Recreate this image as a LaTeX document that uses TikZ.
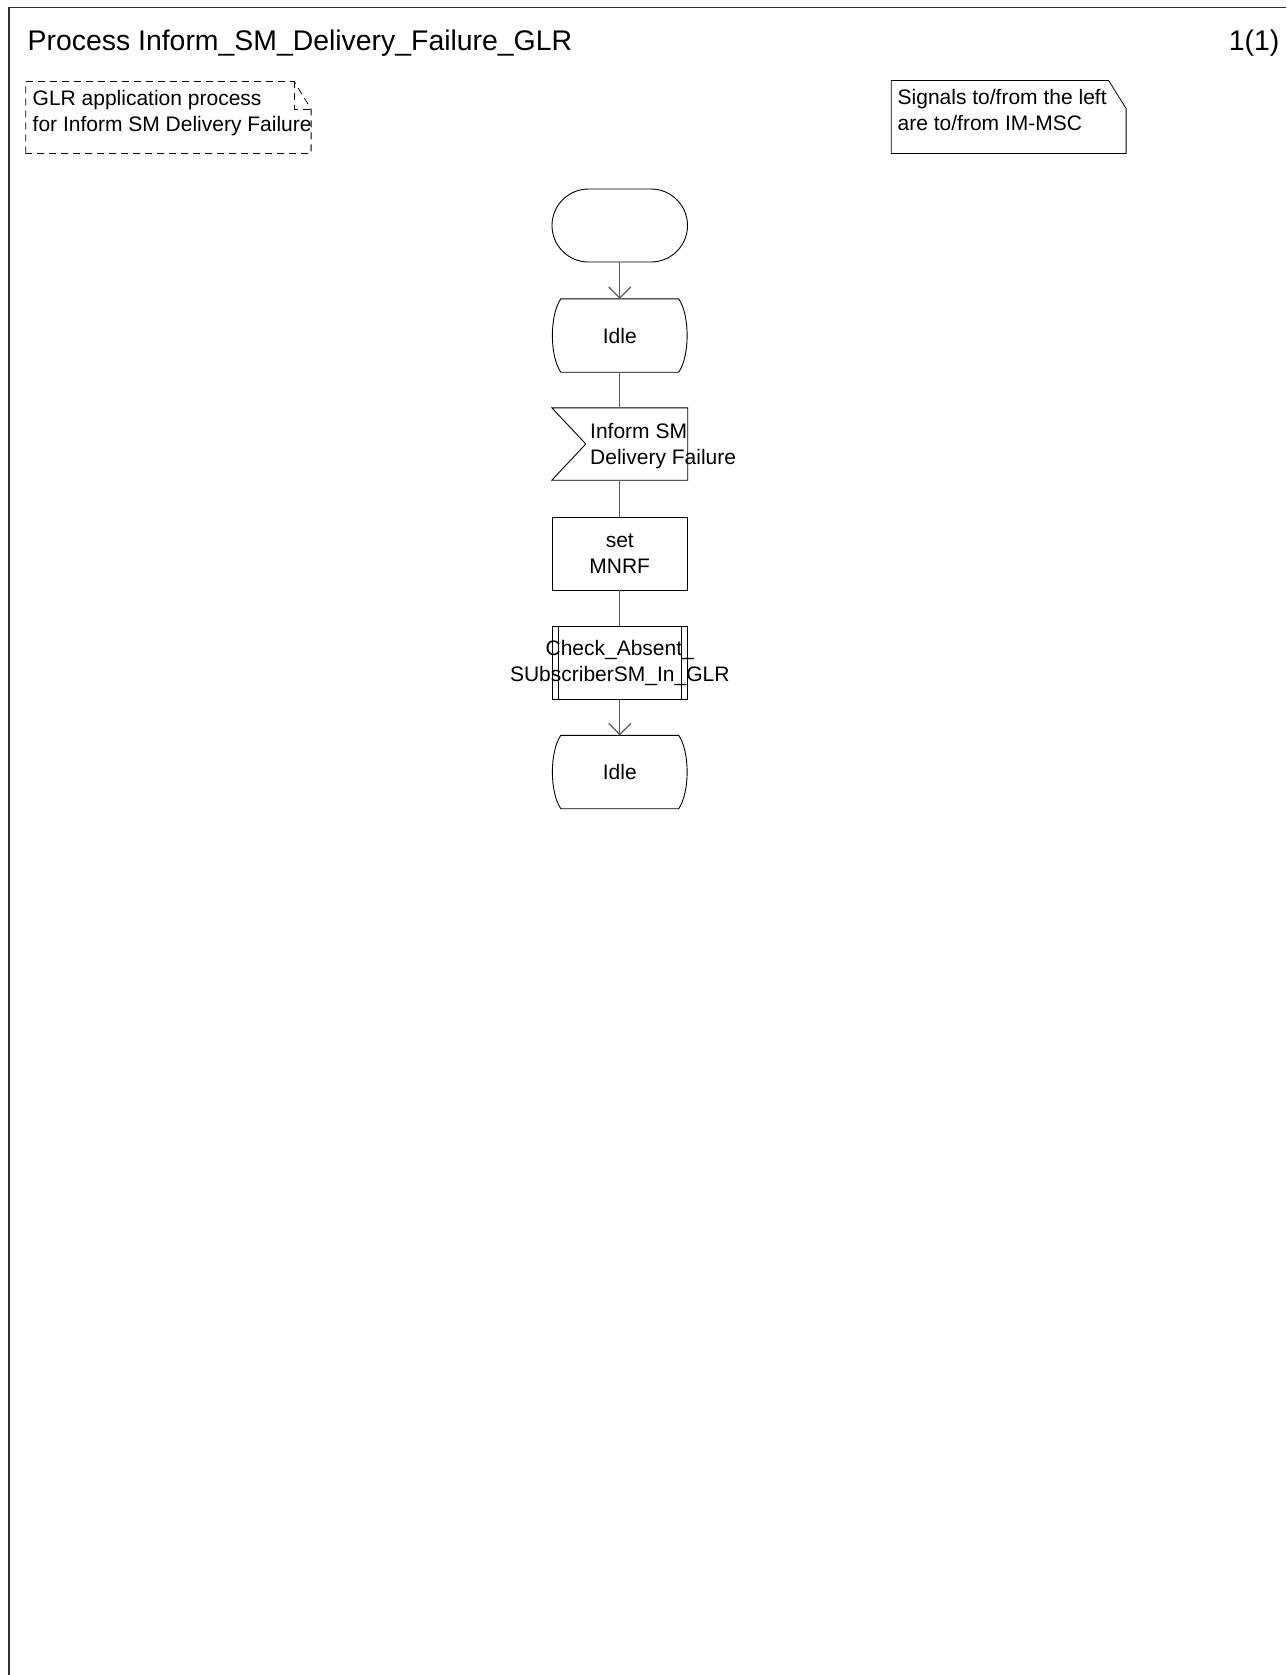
\documentclass[tikz,border=0pt]{standalone}
\usepackage{fontspec}
\setmainfont{Liberation Sans}
\usetikzlibrary{arrows.meta}
\tikzset{
  body/.style={font=\fontsize{21}{26}\selectfont},
  shapebox/.style={rectangle, minimum width=135.5pt, minimum height=73pt, inner sep=0pt, body, align=center},
  outline/.style={draw=black, line width=0.9pt},
  conn/.style={draw=black!65, line width=1.2pt},
  arr/.style={conn, -{Straight Barb[length=11pt, width=22pt, line width=1.2pt]}},
  notetext/.style={body, anchor=north west, inner sep=0pt, align=left},
}
\newcommand{\drawstate}[1]{%
  \draw[outline] ([xshift=9pt]#1.north west) -- ([xshift=-9pt]#1.north east)
    .. controls +(11.25,16.5) and +(11.25,-16.5) .. ([xshift=-9pt]#1.south east)
    -- ([xshift=9pt]#1.south west)
    .. controls +(-11.25,-16.5) and +(-11.25,16.5) .. cycle;}
\begin{document}
\begin{tikzpicture}[x=1pt, y=-1pt]
\useasboundingbox (0,0) rectangle (1286,1675);
% frame
\draw[line width=1.6pt, black!80] (9,1675) -- (9,7.5) -- (1286,7.5);
% title
\node[anchor=base west, inner sep=0pt, font=\fontsize{28.4}{34}\selectfont] (title) at (27.5,51) {Process Inform\_SM\_Delivery\_Failure\_GLR};
\node[anchor=base east, inner sep=0pt, font=\fontsize{28.4}{34}\selectfont] (page) at (1279.5,51) {1(1)};
% dashed comment
\node[rectangle, minimum width=285pt, minimum height=71.5pt, inner sep=0pt, anchor=north west] (c1) at (25.7,81.5) {};
\draw[outline, line width=0.8pt, dash pattern=on 7pt off 5pt]
  (c1.south west) -- (c1.north west) -- ([xshift=-17pt]c1.north east) -- ([yshift=-27.5pt]c1.north east) -- (c1.south east) -- cycle;
\draw[outline, line width=0.8pt, dash pattern=on 7pt off 5pt]
  ([xshift=-17pt]c1.north east) -- ([xshift=-17pt,yshift=-27.5pt]c1.north east) -- ([yshift=-27.5pt]c1.north east);
\node[notetext] (c1t) at (32.5,90) {GLR application process\\for Inform SM Delivery Failure};
% signals note
\node[rectangle, minimum width=234.5pt, minimum height=72.5pt, inner sep=0pt, anchor=north west] (c2) at (891.2,80.5) {};
\draw[outline, line width=0.8pt]
  (c2.south west) -- (c2.north west) -- ([xshift=-17.5pt]c2.north east) -- ([yshift=-28pt]c2.north east) -- (c2.south east) -- cycle;
\node[notetext] (c2t) at (897.5,89.2) {Signals to/from the left\\are to/from IM-MSC};
% flow
\node[shapebox, draw=black, line width=0.9pt, rounded corners=36.5pt] (start) at (619.75,225.5) {};
\node[shapebox] (idle1) at (619.75,335.5) {Idle};
\drawstate{idle1}
\node[shapebox, minimum height=72pt] (input) at (619.75,444) {};
\draw[outline] (input.north west) -- (input.north east) -- (input.south east) -- (input.south west) -- ([xshift=34pt]input.west) -- cycle;
\node[body, anchor=west, inner sep=0pt, align=left] (inputt) at (590,446) {Inform SM\\Delivery Failure};
\node[shapebox, draw=black, line width=0.9pt] (task) at (619.75,553.5) {set\\MNRF};
\node[shapebox, draw=black, line width=0.9pt] (proc) at (619.75,662.75) {};
\draw[outline] ([xshift=7pt]proc.north west) -- ([xshift=7pt]proc.south west);
\draw[outline] ([xshift=-7pt]proc.north east) -- ([xshift=-7pt]proc.south east);
\node[body, inner sep=0pt, align=center] (proct) at (proc.center) {Check\_Absent\_\\SUbscriberSM\_In\_GLR};
\node[shapebox] (idle2) at (619.75,772) {Idle};
\drawstate{idle2}
% connectors
\draw[arr] (start.south) -- (idle1.north);
\draw[conn] (idle1.south) -- (input.north);
\draw[conn] (input.south) -- (task.north);
\draw[conn] (task.south) -- (proc.north);
\draw[arr] (proc.south) -- (idle2.north);
\end{tikzpicture}
\end{document}
